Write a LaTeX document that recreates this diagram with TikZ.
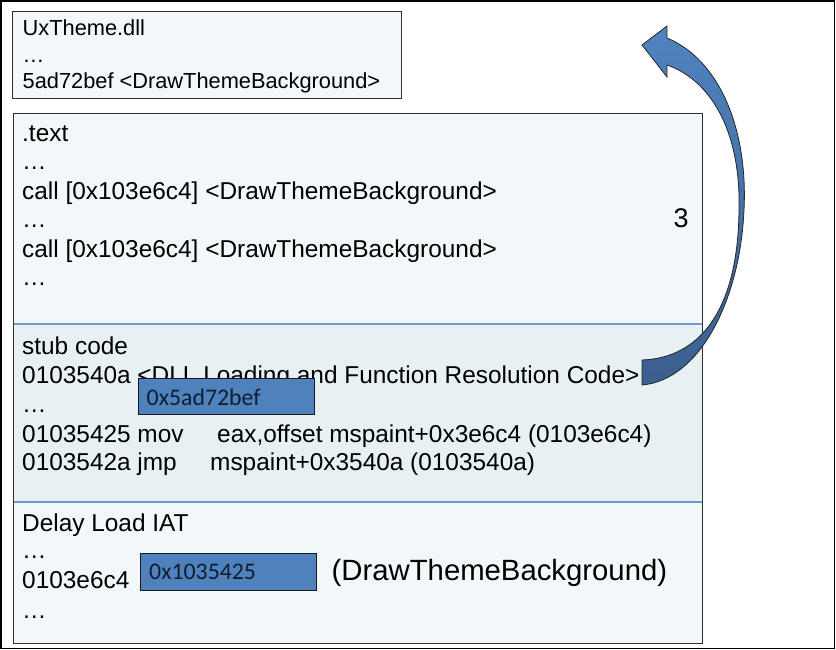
\documentclass[tikz,border=0pt]{standalone}
\usepackage{fontspec}
\setmainfont{Liberation Sans}
\newfontfamily\calib{Carlito}
\definecolor{paleblue}{HTML}{F2F7FA}
\definecolor{stubfill}{HTML}{E7F1F4}
\definecolor{sepblue}{HTML}{6E9AD0}
\definecolor{valfill}{HTML}{4F81BD}
\definecolor{valtext}{HTML}{0F1E30}
\definecolor{arrowtop}{HTML}{5083C0}
\definecolor{arrowbot}{HTML}{3B5E8E}
\definecolor{edge}{HTML}{303030}
\begin{document}
\begin{tikzpicture}[x=1pt,y=-1pt,
  region/.style={anchor=north west, inner sep=0pt, outer sep=0pt},
  line/.style={anchor=base west, inner sep=0pt, font=\fontsize{24.4}{29}\selectfont},
  dllline/.style={anchor=base west, inner sep=0pt, font=\fontsize{21.8}{26}\selectfont},
  valbox/.style={region, draw=black!90, line width=0.9pt, fill=valfill},
  valtxt/.style={anchor=base west, inner sep=0pt, text=valtext, font=\calib\fontsize{23.8}{28}\selectfont}]
\useasboundingbox (0,0) rectangle (836,650);
\draw[line width=1.6pt] (0.8,0.8) rectangle (834.4,648.4);

% UxTheme.dll module
\node[region, draw=edge, line width=0.9pt, fill=paleblue, minimum width=389pt, minimum height=87pt] (dll) at (12.5,11) {};
\node[dllline] (dllname) at (22.5,35.5) {UxTheme.dll};
\node[dllline] (dlldots) at (22.5,62.5) {…};
\node[dllline] (dllfunc) at (22.5,89) {5ad72bef <DrawThemeBackground>};

% mspaint image sections
\node[region, fill=paleblue, minimum width=689pt, minimum height=211pt] (textsec) at (13,113) {};
\node[region, fill=stubfill, minimum width=689pt, minimum height=178pt] (stubsec) at (13,324) {};
\node[region, fill=paleblue, minimum width=689pt, minimum height=141pt] (iatsec) at (13,502) {};
\draw[sepblue, line width=1.3pt] (textsec.south west) -- (textsec.south east);
\draw[sepblue, line width=1.3pt] (stubsec.south west) -- (stubsec.south east);
\node[region, draw=edge, line width=0.9pt, minimum width=689pt, minimum height=530pt] (image) at (13,113) {};

% .text
\node[line] (t1) at (22,141.5) {.text};
\node[line] (t2) at (22,169.5) {…};
\node[line] (t3) at (22,199.5) {call [0x103e6c4] <DrawThemeBackground>};
\node[line] (t4) at (22,227.5) {…};
\node[line] (t5) at (22,257.5) {call [0x103e6c4] <DrawThemeBackground>};
\node[line] (t6) at (22,285.5) {…};

% stub code
\node[line] (s1) at (22,354) {stub code};
\node[line] (s2) at (22,383) {0103540a <DLL Loading and Function Resolution Code>};
\node[line] (s3) at (22,412.5) {…};
\node[line] (s4) at (22,442) {01035425 mov};
\node[line] (s4b) at (217,442) {eax,offset mspaint+0x3e6c4 (0103e6c4)};
\node[line] (s5) at (22,470.5) {0103542a jmp};
\node[line] (s5b) at (210,470.5) {mspaint+0x3540a (0103540a)};
\node[valbox, minimum width=176pt, minimum height=36pt] (resolved) at (138.5,378.5) {};
\node[valtxt] (resolvedval) at (146.5,405) {0x5ad72bef};

% delay load IAT
\node[line] (d1) at (22,531.5) {Delay Load IAT};
\node[line] (d2) at (22,558.5) {…};
\node[line] (d3) at (22,588.5) {0103e6c4};
\node[line] (d4) at (22,618) {…};
\node[valbox, minimum width=176pt, minimum height=37pt] (slot) at (140.5,553.5) {};
\node[valtxt] (slotval) at (149,579.5) {0x1035425};
\node[anchor=base west, inner sep=0pt, font=\fontsize{29.3}{34}\selectfont] (slotname) at (331.5,580.5) {(DrawThemeBackground)};

% step label and curved return arrow
\node[anchor=base west, inner sep=0pt, font=\fontsize{27}{32}\selectfont] (step3) at (673.5,227) {3};
\shade[top color=arrowtop, bottom color=arrowbot, draw=black!85, line width=0.8pt]
  (667,38) .. controls (720,60) and (748,130) .. (744,210)
  .. controls (740,300) and (700,380) .. (642,385)
  -- (642,360)
  .. controls (700,358) and (738,310) .. (739,210)
  .. controls (741,130) and (710,80) .. (667,65)
  -- (667,77) -- (642,45) -- (667,26) -- cycle;
\end{tikzpicture}
\end{document}
